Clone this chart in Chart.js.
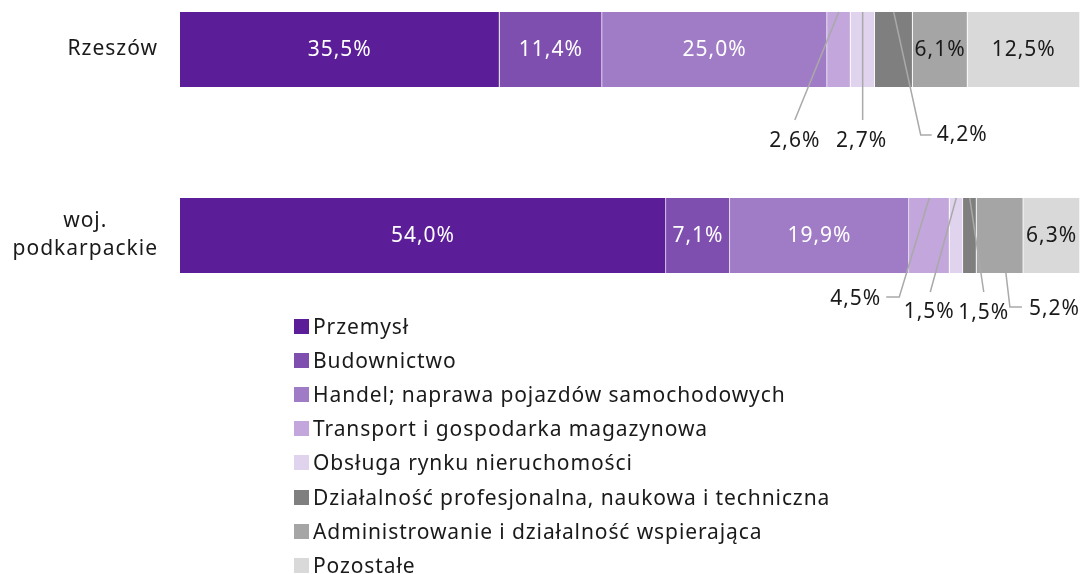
<!DOCTYPE html>
<html lang="pl">
<head>
<meta charset="utf-8">
<title>Struktura sektorowa</title>
<script src="https://cdn.jsdelivr.net/npm/chart.js@4/dist/chart.umd.min.js"></script>
<style>
    html, body { margin: 0; background: #fff; font-family: "Noto Sans", sans-serif; overflow: hidden; }
    #wrap { position: relative; width: 1083px; height: 574px; overflow: hidden; }
    #legend { position: absolute; left: 294px; top: 309px; color: #1a1a1a; font-size: 21px; letter-spacing: 0.9px; line-height: 1; }
    #legend .item { height: 34.2px; display: flex; align-items: center; white-space: nowrap; }
    #legend .box { width: 15px; height: 15px; margin-right: 4px; flex: none; }
</style>
</head>
<body>
<div id="wrap">
    <canvas id="sectorChart"></canvas>
    <div id="legend"></div>
</div>
<script>
// Chart data
const categories = ['Rzeszów', ['woj.', 'podkarpackie']];
const sectors = [
    'Przemysł',
    'Budownictwo',
    'Handel; naprawa pojazdów samochodowych',
    'Transport i gospodarka magazynowa',
    'Obsługa rynku nieruchomości',
    'Działalność profesjonalna, naukowa i techniczna',
    'Administrowanie i działalność wspierająca',
    'Pozostałe'
];
const przemysl = [35.5, 54.0];
const budownictwo = [11.4, 7.1];
const handel = [25.0, 19.9];
const transport = [2.6, 4.5];
const obsluga = [2.7, 1.5];
const dzialalnosc = [4.2, 1.5];
const administrowanie = [6.1, 5.2];
const pozostale = [12.5, 6.3];

const seriesValues = [przemysl, budownictwo, handel, transport, obsluga, dzialalnosc, administrowanie, pozostale];
const colors = ['#5b1e98', '#7f4fb0', '#a07cc6', '#c2a6dc', '#e0d3ee', '#7f7f7f', '#a5a5a5', '#d9d9d9'];
const labelColors = ['#fff', '#fff', '#fff', '#1a1a1a', '#1a1a1a', '#1a1a1a', '#1a1a1a', '#1a1a1a'];

// small segments get a label outside with a leader line (offsets from segment centre / bar edge)
const callouts = {
    '3-0': { from: 'top', sx: 0, pts: [[-44, 108]], lx: -44, ly: 129, align: 'center' },
    '4-0': { from: 'top', sx: 0, pts: [[0, 108]], lx: -1, ly: 129, align: 'center' },
    '5-0': { from: 'top', sx: 0, pts: [[27, 123], [38, 123]], lx: 43, ly: 123, align: 'left' },
    '3-1': { from: 'top', sx: 0, pts: [[-30, 99], [-43, 99]], lx: -48, ly: 101, align: 'right' },
    '4-1': { from: 'top', sx: 0, pts: [[-26, 94]], lx: -27, ly: 114, align: 'center' },
    '5-1': { from: 'top', sx: 0, pts: [[14, 94]], lx: 14, ly: 115, align: 'center' },
    '6-1': { from: 'bottom', sx: 6, pts: [[10, 34], [22, 34]], lx: 29, ly: 36, align: 'left' }
};

const fmt = v => v.toFixed(1).replace('.', ',') + '%';

const labelPlugin = {
    id: 'sectorLabels',
    afterDatasetsDraw(chart) {
        const ctx = chart.ctx;
        const yScale = chart.scales.y;
        ctx.save();
        ctx.letterSpacing = '1px';

        // category labels: block right-aligned, lines centred inside it
        ctx.font = '21px "Noto Sans"';
        ctx.fillStyle = '#1a1a1a';
        ctx.textBaseline = 'middle';
        categories.forEach((cat, i) => {
            const lines = Array.isArray(cat) ? cat : [cat];
            const w = Math.max(...lines.map(l => ctx.measureText(l).width));
            const cx = chart.chartArea.left - 22 - w / 2;
            const cy = yScale.getPixelForValue(i);
            const lh = 28;
            lines.forEach((l, j) => {
                ctx.textAlign = 'center';
                ctx.fillText(l, cx, cy + (j - (lines.length - 1) / 2) * lh);
            });
        });

        ctx.font = '21px "Noto Sans"';
        chart.data.datasets.forEach((ds, di) => {
            const meta = chart.getDatasetMeta(di);
            meta.data.forEach((el, ri) => {
                const value = ds.data[ri];
                const cx = (el.base + el.x) / 2;
                const key = di + '-' + ri;
                const c = callouts[key];
                if (!c) {
                    ctx.fillStyle = labelColors[di];
                    ctx.textAlign = 'center';
                    ctx.fillText(fmt(value), cx, el.y + 1);
                    return;
                }
                const ay = c.from === 'top' ? el.y - el.height / 2 : el.y + el.height / 2;
                const ax = cx + c.sx;
                ctx.strokeStyle = '#a9a9a9';
                ctx.lineWidth = 1.5;
                ctx.beginPath();
                ctx.moveTo(ax, ay);
                c.pts.forEach(p => ctx.lineTo(cx + p[0], ay + p[1]));
                ctx.stroke();
                ctx.fillStyle = '#1a1a1a';
                ctx.textAlign = c.align;
                ctx.fillText(fmt(value), cx + c.lx, ay + c.ly);
            });
        });
        ctx.restore();
    }
};

const datasets = sectors.map((name, i) => ({
    label: name,
    data: seriesValues[i],
    backgroundColor: colors[i],
    borderColor: 'rgba(255,255,255,0.7)',
    borderWidth: { left: 0, right: 1, top: 0, bottom: 0 },
    borderSkipped: false,
    barThickness: 75,
    clip: false
}));

new Chart(document.getElementById('sectorChart'), {
    type: 'bar',
    data: { labels: categories, datasets: datasets },
    options: {
        indexAxis: 'y',
        responsive: true,
        maintainAspectRatio: false,
        animation: false,
        layout: { padding: { left: 180, right: 3, top: 49.5, bottom: 338.5 } },
        scales: {
            x: { stacked: true, min: 0, max: 100, display: false },
            y: { stacked: true, offset: false, display: false }
        },
        plugins: {
            legend: { display: false },
            tooltip: { enabled: false }
        }
    },
    plugins: [labelPlugin]
});

// Legend as one column under the bars
const legend = document.getElementById('legend');
sectors.forEach((name, i) => {
    const item = document.createElement('div');
    item.className = 'item';
    item.innerHTML = '<span class="box" style="background:' + colors[i] + '"></span><span>' + name + '</span>';
    legend.appendChild(item);
});
</script>
</body>
</html>
